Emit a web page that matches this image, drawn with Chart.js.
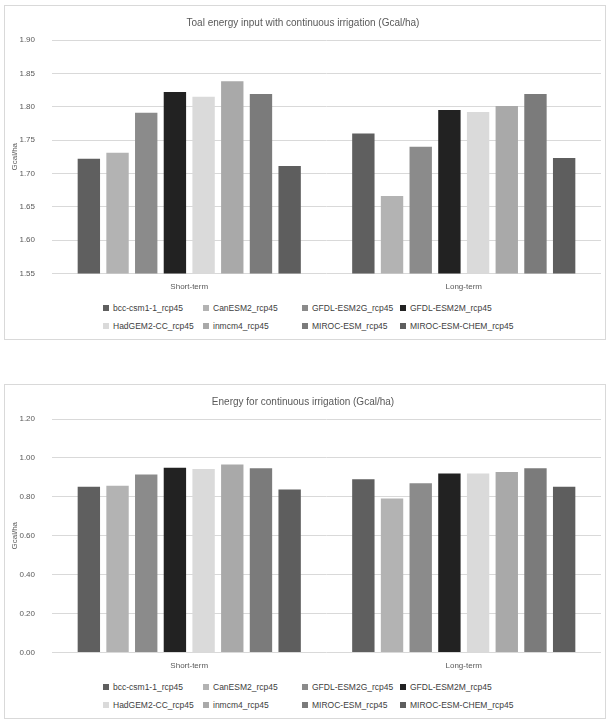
<!DOCTYPE html>
<html lang="en">
<head>
  <meta charset="UTF-8">
  <title>Energy for continuous irrigation</title>
  <script src="https://cdn.jsdelivr.net/npm/chart.js"></script>
  <style>
    body {
      margin: 0;
      background: #fff;
      font-family: "Liberation Sans", Arial, sans-serif;
    }
    .box {
      position: absolute;
      left: 4px;
      width: 602px;
      height: 335px;
      border: 1px solid #d9d9d9;
      box-sizing: border-box;
    }
    .box canvas {
      position: absolute;
      left: 0;
      top: 0;
    }
    .legend-item {
      position: absolute;
      font-size: 8.5px;
      color: #404040;
      white-space: nowrap;
      line-height: 12px;
    }
    .legend-item span {
      display: inline-block;
      width: 6px;
      height: 6px;
      margin-right: 4px;
      vertical-align: 0px;
    }
  </style>
</head>
<body>
  <div class="box" id="box1" style="top:5px">
    <canvas id="chart1" width="600" height="295"></canvas>
  </div>
  <div class="box" id="box2" style="top:384px">
    <canvas id="chart2" width="600" height="295"></canvas>
  </div>

  <script>
    const categories = ['Short-term', 'Long-term'];
    const models = ['bcc-csm1-1_rcp45', 'CanESM2_rcp45', 'GFDL-ESM2G_rcp45', 'GFDL-ESM2M_rcp45',
                    'HadGEM2-CC_rcp45', 'inmcm4_rcp45', 'MIROC-ESM_rcp45', 'MIROC-ESM-CHEM_rcp45'];

    // total energy input (Gcal/ha)
    const totalShort = [1.722, 1.731, 1.791, 1.822, 1.815, 1.838, 1.819, 1.711];
    const totalLong  = [1.760, 1.666, 1.740, 1.795, 1.792, 1.801, 1.819, 1.723];

    // energy for irrigation (Gcal/ha)
    const irrShort = [0.852, 0.857, 0.915, 0.950, 0.943, 0.966, 0.947, 0.838];
    const irrLong  = [0.890, 0.792, 0.870, 0.920, 0.920, 0.928, 0.947, 0.852];

    const colors = ['#5f5f5f', '#b3b3b3', '#8b8b8b', '#222222', '#dadada', '#a9a9a9', '#7b7b7b', '#5e5e5e'];

    const fontFamily = '"Liberation Sans", Arial, sans-serif';
    const textColor = '#595959';

    function makeChart(id, title, shortVals, longVals, yMin, yMax, step) {
      const datasets = models.map((m, i) => ({
        label: m,
        data: [shortVals[i], longVals[i]],
        backgroundColor: colors[i],
        categoryPercentage: 0.836,
        barPercentage: 0.78
      }));

      return new Chart(document.getElementById(id), {
        type: 'bar',
        data: { labels: categories, datasets: datasets },
        options: {
          responsive: false,
          animation: false,
          layout: { padding: { left: 0, right: 4, top: 4, bottom: 0 } },
          plugins: {
            legend: { display: false },
            tooltip: { enabled: false },
            title: {
              display: true,
              text: title,
              color: textColor,
              font: { family: fontFamily, size: 10, weight: 'normal' },
              padding: { top: 7, bottom: 11 }
            }
          },
          scales: {
            x: {
              grid: { display: false, drawTicks: false },
              border: { display: false },
              ticks: { color: textColor, font: { family: fontFamily, size: 8 }, padding: 8 },
              afterFit: s => { s.height = 27.5; }
            },
            y: {
              min: yMin,
              max: yMax,
              grid: { color: '#d9d9d9', drawTicks: false },
              border: { display: false },
              ticks: {
                stepSize: step,
                color: textColor,
                font: { family: fontFamily, size: 8 },
                padding: 17,
                callback: v => v.toFixed(2)
              },
              title: {
                display: true,
                text: 'Gcal/ha',
                color: textColor,
                font: { family: fontFamily, size: 8 },
                padding: { top: 5, bottom: 0 }
              },
              afterFit: s => { s.width = 47; }
            }
          }
        }
      });
    }

    function makeLegend(boxId) {
      const box = document.getElementById(boxId);
      const colX = [98, 198, 297, 395];
      const rowY = [296, 314];
      models.forEach((m, i) => {
        const el = document.createElement('div');
        el.className = 'legend-item';
        el.style.left = colX[i % 4] + 'px';
        el.style.top = rowY[Math.floor(i / 4)] + 'px';
        const sw = document.createElement('span');
        sw.style.background = colors[i];
        el.appendChild(sw);
        el.appendChild(document.createTextNode(m));
        box.appendChild(el);
      });
    }

    makeChart('chart1', 'Toal energy input with continuous irrigation (Gcal/ha)', totalShort, totalLong, 1.55, 1.90, 0.05);
    makeChart('chart2', 'Energy for continuous irrigation (Gcal/ha)', irrShort, irrLong, 0, 1.2, 0.2);
    makeLegend('box1');
    makeLegend('box2');
  </script>
</body>
</html>
